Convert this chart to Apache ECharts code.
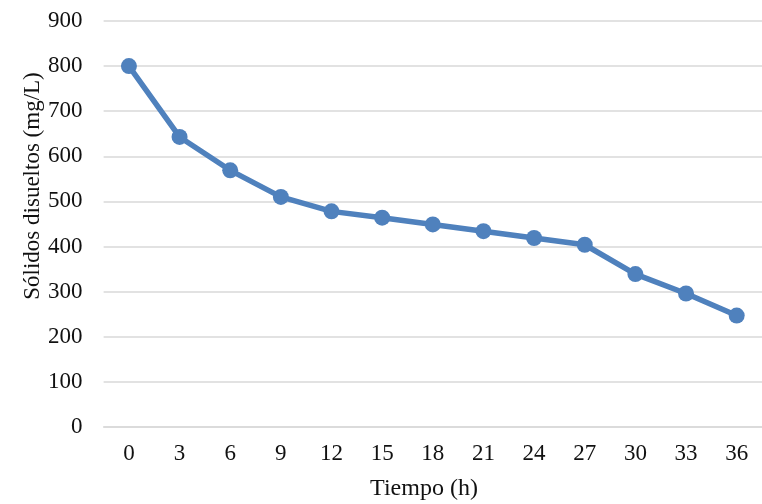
<!DOCTYPE html>
<html>
<head>
<meta charset="utf-8">
<script src="https://cdn.jsdelivr.net/npm/echarts@6/dist/echarts.min.js"></script>
<style>html,body{margin:0;padding:0;background:#fff;}#c{width:762px;height:504px;}</style>
</head>
<body>
<div id="c"></div>
<script>
var categories = ['0','3','6','9','12','15','18','21','24','27','30','33','36'];
var solidos = [800, 643, 569, 510, 478, 464, 449, 434, 419, 404, 339, 296, 247];
var xTitle = 'Tiempo (h)';
var yTitle = 'Sólidos disueltos (mg/L)';

var chart = echarts.init(document.getElementById('c'), null, {renderer: 'canvas'});
var font = 'Liberation Serif';
var txt = '#111111';
chart.setOption({
  animation: false,
  backgroundColor: '#ffffff',
  grid: {left: 103.6, right: -9, top: 21, bottom: 77, containLabel: false},
  xAxis: {
    type: 'category',
    data: categories,
    boundaryGap: true,
    axisLine: {show: true, lineStyle: {color: '#d9d9d9', width: 1.5}},
    axisTick: {show: false},
    axisLabel: {color: txt, fontFamily: font, fontSize: 23, margin: 15}
  },
  yAxis: {
    type: 'value',
    min: 0, max: 900, interval: 100,
    axisLine: {show: false},
    axisTick: {show: false},
    axisLabel: {color: txt, fontFamily: font, fontSize: 23, margin: 21},
    splitLine: {lineStyle: {color: '#d9d9d9', width: 1.5}}
  },
  graphic: [
    {type: 'text', style: {text: xTitle, font: '24px "Liberation Serif"', fill: txt, textAlign: 'center', textVerticalAlign: 'middle'}, position: [424, 489]},
    {type: 'text', rotation: Math.PI/2, style: {text: yTitle, font: '23px "Liberation Serif"', fill: txt, textAlign: 'center', textVerticalAlign: 'middle'}, position: [33, 186]}
  ],
  series: [{
    type: 'line',
    data: solidos,
    symbol: 'circle',
    symbolSize: 16,
    lineStyle: {color: '#4f81bd', width: 5.5},
    itemStyle: {color: '#4f81bd'}
  }]
});
</script>
</body>
</html>
